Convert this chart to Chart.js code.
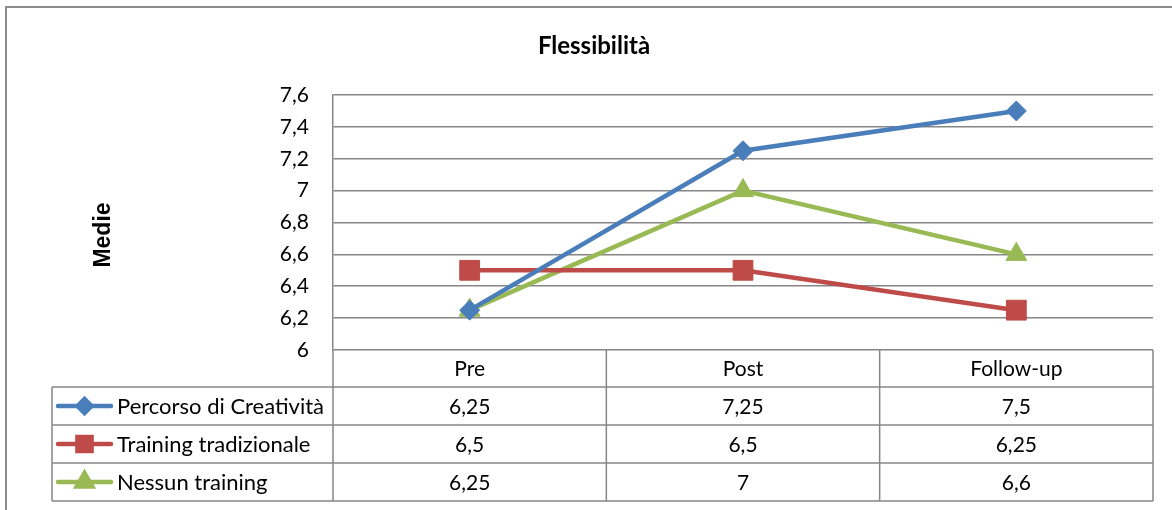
<!DOCTYPE html>
<html lang="it">
<head>
<meta charset="utf-8">
<title>Flessibilità</title>
<script src="https://cdn.jsdelivr.net/npm/chart.js@4.4.1/dist/chart.umd.min.js"></script>
<style>
  html, body { margin: 0; padding: 0; background: #ffffff; }
  #wrap { width: 1172px; height: 510px; }
</style>
</head>
<body>
<div id="wrap"><canvas id="chart" width="1172" height="510"></canvas></div>
<script>
// Fasi di misurazione
const categories = ['Pre', 'Post', 'Follow-up'];

// Medie per gruppo
const seriesNames = ['Percorso di Creatività', 'Training tradizionale', 'Nessun training'];
const percorsoCreativita = [6.25, 7.25, 7.5];
const trainingTradizionale = [6.5, 6.5, 6.25];
const nessunTraining = [6.25, 7, 6.6];

// Asse Y
const yMin = 6;
const yMax = 7.6;
const yStep = 0.2;

const chartTitle = 'Flessibilità';
const yTitle = 'Medie';

const seriesValues = [percorsoCreativita, trainingTradizionale, nessunTraining];
const seriesColors = ['#4A7EBB', '#BE4B48', '#98B954'];
const seriesMarkers = ['rectRot', 'rect', 'triangle'];
const markerRadius = [10, 14, 12];
const keyRadius = [7, 10, 9];

const FONT = 'Lato, "Open Sans", "Liberation Sans", sans-serif';
const GRID = '#868686';

function fmt(v) {
  return String(Number(v.toFixed(2))).replace('.', ',');
}

// Cornice esterna, titolo del grafico e titolo dell'asse Y
const frame = {
  id: 'frame',
  beforeDraw(chart) {
    const ctx = chart.ctx;
    ctx.save();
    ctx.fillStyle = '#ffffff';
    ctx.fillRect(0, 0, chart.width, chart.height);
    ctx.strokeStyle = '#8c8c8c';
    ctx.lineWidth = 2;
    ctx.beginPath();
    ctx.moveTo(6, chart.height);
    ctx.lineTo(6, 7);
    ctx.lineTo(chart.width, 7);
    ctx.stroke();

    ctx.fillStyle = '#000000';
    ctx.textAlign = 'center';
    ctx.textBaseline = 'middle';
    ctx.font = 'bold 24px ' + FONT;
    ctx.fillText(chartTitle, 594, 46);

    ctx.translate(104, 235);
    ctx.rotate(-Math.PI / 2);
    ctx.font = 'bold 23px "Liberation Sans", Arial, sans-serif';
    ctx.fillText(yTitle, 0, 0);
    ctx.restore();
  }
};

// Tabella dati sotto l'area del tracciato
const dataTable = {
  id: 'dataTable',
  afterDraw(chart) {
    const ctx = chart.ctx;
    const area = chart.chartArea;
    const xs = chart.scales.x;
    const n = categories.length;
    const colW = (area.right - area.left) / n;
    const headTop = area.bottom;
    const headH = 37;
    const rowH = 38;
    const legendLeft = 52;
    const bottom = headTop + headH + rowH * seriesNames.length;

    ctx.save();
    ctx.strokeStyle = GRID;
    ctx.lineWidth = 1.5;

    // linee orizzontali
    ctx.beginPath();
    for (let r = 0; r <= seriesNames.length; r++) {
      const y = headTop + headH + rowH * r;
      ctx.moveTo(legendLeft, y);
      ctx.lineTo(area.right, y);
    }
    // linee verticali delle colonne
    for (let c = 0; c <= n; c++) {
      const x = area.left + colW * c;
      ctx.moveTo(x, headTop);
      ctx.lineTo(x, bottom);
    }
    ctx.moveTo(legendLeft, headTop + headH);
    ctx.lineTo(legendLeft, bottom);
    ctx.stroke();

    ctx.fillStyle = '#000000';
    ctx.font = '21px ' + FONT;
    ctx.textBaseline = 'middle';
    ctx.textAlign = 'center';

    // intestazioni
    categories.forEach((c, i) => {
      ctx.fillText(c, xs.getPixelForValue(i), headTop + headH / 2 + 1);
    });

    // righe delle serie
    seriesNames.forEach((name, s) => {
      const yc = headTop + headH + rowH * s + rowH / 2 + 1;
      ctx.textAlign = 'center';
      ctx.fillStyle = '#000000';
      seriesValues[s].forEach((v, i) => {
        ctx.fillText(fmt(v), xs.getPixelForValue(i), yc);
      });

      // chiave della legenda
      ctx.strokeStyle = seriesColors[s];
      ctx.lineWidth = 4.5;
      ctx.lineCap = 'round';
      ctx.beginPath();
      ctx.moveTo(58, yc - 1);
      ctx.lineTo(111, yc - 1);
      ctx.stroke();
      ctx.fillStyle = seriesColors[s];
      Chart.helpers.drawPoint(ctx, {
        pointStyle: seriesMarkers[s],
        radius: keyRadius[s],
        rotation: 0,
        borderWidth: 1
      }, 84.5, yc - 1);
      ctx.fill();

      ctx.fillStyle = '#000000';
      ctx.textAlign = 'left';
      ctx.font = '22px ' + FONT;
      ctx.fillText(name, 117, yc);
      ctx.font = '21px ' + FONT;
    });
    ctx.restore();
  }
};

new Chart(document.getElementById('chart'), {
  type: 'line',
  data: {
    labels: categories,
    datasets: seriesNames.map((name, s) => ({
      label: name,
      data: seriesValues[s],
      borderColor: seriesColors[s],
      backgroundColor: seriesColors[s],
      borderWidth: 4.5,
      pointStyle: seriesMarkers[s],
      pointRadius: markerRadius[s],
      pointBorderWidth: 1,
      pointBorderColor: seriesColors[s],
      pointBackgroundColor: seriesColors[s],
      tension: 0,
      fill: false
    }))
  },
  options: {
    responsive: false,
    animation: false,
    layout: { padding: { left: 90, right: 19, top: 95, bottom: 160 } },
    plugins: {
      legend: { display: false },
      tooltip: { enabled: false },
      title: { display: false }
    },
    scales: {
      x: {
        display: false,
        offset: true
      },
      y: {
        min: yMin,
        max: yMax,
        afterFit(scale) { scale.width = 243; },
        ticks: {
          stepSize: yStep,
          color: '#000000',
          padding: 24,
          font: { family: FONT, size: 21 },
          callback: (v) => fmt(v)
        },
        grid: { color: GRID, lineWidth: 1.5, drawTicks: false },
        border: { display: true, color: GRID, width: 1.5 }
      }
    }
  },
  plugins: [frame, dataTable]
});
</script>
</body>
</html>
